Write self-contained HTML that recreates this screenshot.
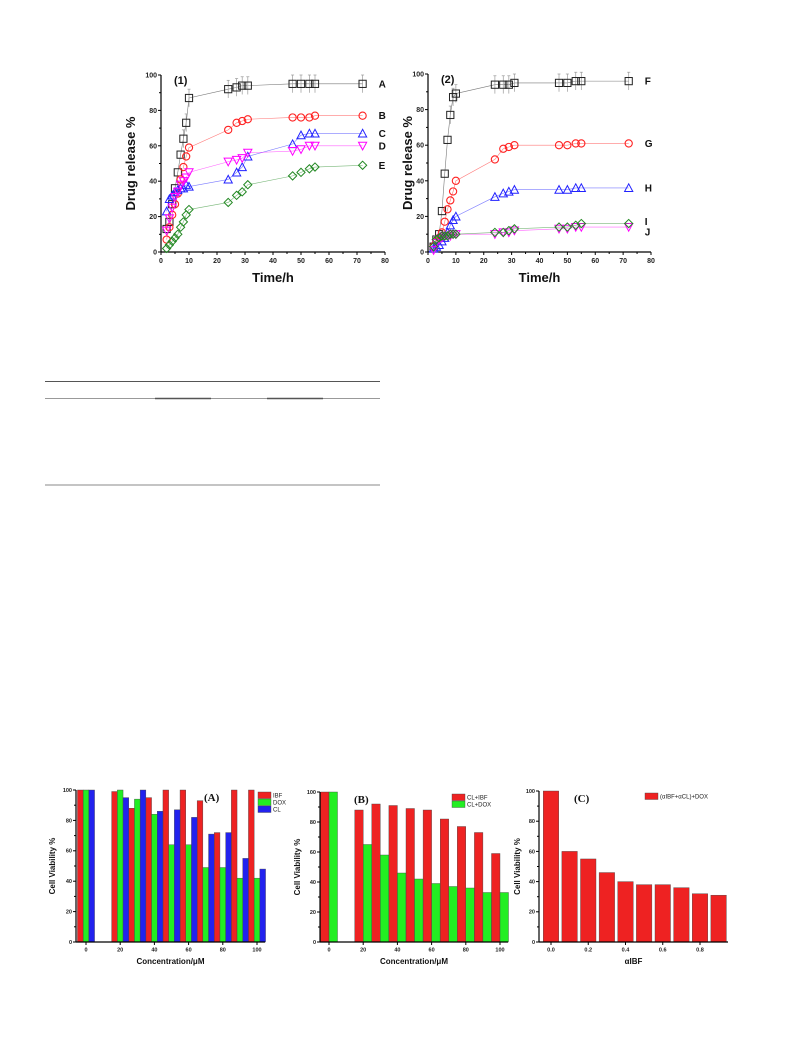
<!DOCTYPE html>
<html><head><meta charset="utf-8"><style>
html,body{margin:0;padding:0;background:#fff}
svg{display:block;font-family:"Liberation Sans",Arial,sans-serif}
</style></head><body>
<svg id="s" width="793" height="1057" viewBox="0 0 793 1057" xmlns="http://www.w3.org/2000/svg">
<g>
<line x1="45" y1="381.5" x2="380" y2="381.5" stroke="#555" stroke-width="1"/>
<line x1="45" y1="398.5" x2="380" y2="398.5" stroke="#999" stroke-width="1"/>
<line x1="155" y1="398.5" x2="211" y2="398.5" stroke="#555" stroke-width="1.4"/>
<line x1="267" y1="398.5" x2="323" y2="398.5" stroke="#555" stroke-width="1.4"/>
<line x1="45" y1="485" x2="380" y2="485" stroke="#888" stroke-width="1"/>
</g>
</svg>
<script>
const T1=[2,3,4,5,6,7,8,9,10,24,27,29,31,47,50,53,55,72];
const seriesA=[13,17,27,36,45,55,64,73,87,92,93,94,94,95,95,95,95,95];
const seriesB=[7,14,21,27,33,41,48,54,59,69,73,74,75,76,76,76,77,77];
const seriesC=[23,30,32,34,35,36,36,38,37,41,45,48,54,61,66,67,67,67];
const seriesD=[12,19,25,31,34,38,40,42,45,51,52,53,56,57,58,60,60,60];
const seriesE=[2,4,6,8,10,14,17,21,24,28,32,34,38,43,45,47,48,49];
const seriesF=[3,7,10,23,44,63,77,87,89,94,94,94,95,95,95,96,96,96];
const seriesG=[3,6,8,11,17,24,29,34,40,52,58,59,60,60,60,61,61,61];
const seriesH=[2,3,4,6,8,11,15,18,20,31,33,34,35,35,35,36,36,36];
const seriesI=[3,7,8,9,9,9,10,10,10,11,11,12,13,14,14,15,16,16];
const seriesJ=[1,5,7,8,9,9,9,10,10,10,11,11,12,13,13,14,14,14];
const xTicksTime=[0,10,20,30,40,50,60,70,80];
const yTicksPct=[0,20,40,60,80,100];
const concCats=[0,20,30,40,50,60,70,80,90,100];
const viabIBF=[100,99,88,95,100,100,93,72,100,100];
const viabDOX=[100,100,94,84,64,64,49,49,42,42];
const viabCL=[100,95,100,86,87,82,71,72,55,48];
const viabCLIBF=[100,88,92,91,89,88,82,77,73,59];
const viabCLDOX=[100,65,58,46,42,39,37,36,33,33];
const concTicks=[0,20,40,60,80,100];
const alphaCats=[0,0.1,0.2,0.3,0.4,0.5,0.6,0.7,0.8,0.9];
const viabAlpha=[100,60,55,46,40,38,38,36,32,31];
const alphaTicks=[0,0.2,0.4,0.6,0.8];

const svg=document.getElementById('s');
const NS='http://www.w3.org/2000/svg';
function mk(tag,attrs,parent){const e=document.createElementNS(NS,tag);for(const k in attrs)e.setAttribute(k,attrs[k]);(parent||svg).appendChild(e);return e;}
function txt(s,attrs,parent){const e=mk('text',attrs,parent);e.textContent=s;return e;}

function axes(g,x0,x1,y0,y1,xs,ys,xt,yt,fmtX,fs,minor){
  const ax=mk('line',{x1:x0,y1:y0,x2:x1,y2:y0,stroke:'#000','stroke-width':1.2},g);
  
  
  const ay=mk('line',{x1:x0,y1:y0,x2:x0,y2:y1,stroke:'#000','stroke-width':1.2},g);
  
  
  xt.forEach(v=>{const x=xs(v);
    mk('line',{x1:x,y1:y0,x2:x,y2:y0+3,stroke:'#000'},g);
    const t=txt(fmtX(v),{x:x,y:y0+4+fs,'font-size':fs,'text-anchor':'middle','font-weight':'bold',fill:'#222'},g);
    
    
  });
  yt.forEach((v,i)=>{const y=ys(v);
    mk('line',{x1:x0-3,y1:y,x2:x0,y2:y,stroke:'#000'},g);
    if(minor&&i<yt.length-1){const ym=ys(v+(yt[1]-yt[0])/2);mk('line',{x1:x0-2,y1:ym,x2:x0,y2:ym,stroke:'#000'},g);}
    const t=txt(String(v),{x:x0-4,y:y+fs*0.35,'font-size':fs,'text-anchor':'end','font-weight':'bold',fill:'#222'},g);
    
    
  });
}

function marker(g,shape,x,y,c){
  const r=3.6;
  if(shape==='sq')return mk('rect',{x:x-r,y:y-r,width:2*r,height:2*r,fill:'none',stroke:c,'stroke-width':1},g);
  if(shape==='ci')return mk('circle',{cx:x,cy:y,r:r,fill:'none',stroke:c,'stroke-width':1.1},g);
  if(shape==='up')return mk('polygon',{points:`${x},${y-r-0.5} ${x-r-0.5},${y+r} ${x+r+0.5},${y+r}`,fill:'none',stroke:c,'stroke-width':1},g);
  if(shape==='dn')return mk('polygon',{points:`${x-r-0.5},${y-r} ${x+r+0.5},${y-r} ${x},${y+r+0.5}`,fill:'none',stroke:c,'stroke-width':1},g);
  return mk('polygon',{points:`${x},${y-r-0.5} ${x+r+0.5},${y} ${x},${y+r+0.5} ${x-r-0.5},${y}`,fill:'none',stroke:c,'stroke-width':1},g);
}

function lineChart(name,x0,x1,y0,y1,label,series,ytitleX){
  const g=mk('g',{});
  
  
  const xs=v=>x0+(v/80)*(x1-x0), ys=v=>y0-(v/100)*(y0-y1);
  axes(g,x0,x1,y0,y1,xs,ys,xTicksTime,yTicksPct,v=>String(v),7,true);
  xTicksTime.slice(0,-1).forEach(v=>{const x=xs(v+5);mk('line',{x1:x,y1:y0,x2:x,y2:y0+2,stroke:'#000'},g);});
  const p=txt(label,{x:x0+13,y:y1+9,'font-size':11,'font-weight':'bold',fill:'#111'},g);
  
  
  const xt=txt('Time/h',{x:(x0+x1)/2,y:y0+30,'font-size':13,'font-weight':'bold','text-anchor':'middle',fill:'#111'},g);
  
  
  const yt=txt('Drug release %',{x:ytitleX,y:(y0+y1)/2,'font-size':13,'font-weight':'bold','text-anchor':'middle',fill:'#111',transform:`rotate(-90 ${ytitleX} ${(y0+y1)/2})`},g);
  
  
  series.forEach(s=>{
    const sg=mk('g',{},g);
    
    
    const pts=T1.map((t,i)=>xs(t)+','+ys(s.v[i])).join(' ');
    mk('polyline',{points:pts,fill:'none',stroke:s.c,'stroke-width':0.6,opacity:0.6},sg);
    if(s.err){T1.forEach((t,i)=>{if(t>=8){const x=xs(t);mk('line',{x1:x,y1:ys(s.v[i]+5),x2:x,y2:ys(s.v[i]-5),stroke:'#999','stroke-width':0.7},sg);mk('line',{x1:x-1.5,y1:ys(s.v[i]+5),x2:x+1.5,y2:ys(s.v[i]+5),stroke:'#999','stroke-width':0.7},sg);}});}
    T1.forEach((t,i)=>{const m=marker(sg,s.m,xs(t),ys(s.v[i]),s.c);
      
      });
    const lx=xs(72)+16;
    const lb=txt(s.n,{x:lx,y:ys(s.v[s.v.length-1])+(s.dy||0)+3.5,'font-size':10,'font-weight':'bold',fill:'#111'},sg);
    
    
  });
}
lineChart('release-chart-1',161,385,252,75,'(1)',[
 {n:'A',v:seriesA,c:'#222',m:'sq',err:true},
 {n:'B',v:seriesB,c:'#f22',m:'ci'},
 {n:'C',v:seriesC,c:'#22f',m:'up'},
 {n:'D',v:seriesD,c:'#f0f',m:'dn'},
 {n:'E',v:seriesE,c:'#282',m:'di'}],135);
lineChart('release-chart-2',428,651,252,74,'(2)',[
 {n:'F',v:seriesF,c:'#222',m:'sq',err:true},
 {n:'G',v:seriesG,c:'#f22',m:'ci'},
 {n:'H',v:seriesH,c:'#22f',m:'up'},
 {n:'J',v:seriesJ,c:'#f0f',m:'dn',dy:5},
 {n:'I',v:seriesI,c:'#282',m:'di',dy:-2}],412);

function barChart(name,x0,x1,y0,y1,xs,cats,groups,bw,label,labelX,legend,legX,xtitle,xticks,fmt,titleX){
  const g=mk('g',{});
  
  
  const ys=v=>y0-(v/100)*(y0-y1);
  const n=groups.length;
  groups.forEach((gr,k)=>{
    cats.forEach((c,i)=>{
      const cx=xs(c)+(k-(n-1)/2)*bw;
      const r=mk('rect',{x:cx-bw/2,y:ys(gr.v[i]),width:bw,height:y0-ys(gr.v[i]),fill:gr.c,stroke:'#444','stroke-width':0.4},g);
      
      
    });
  });
  axes(g,x0,x1,y0,y1,xs,ys,xticks,yTicksPct,fmt,5.5,true);
  const p=txt(label,{x:labelX,y:y1+11,'font-size':11,'font-weight':'bold','font-family':'Liberation Serif, serif',fill:'#111'},g);
  
  
  groups.forEach((gr,k)=>{
    const sw=mk('rect',{x:legX,y:y1+2+k*7,width:13,height:6.5,fill:gr.c,stroke:'#444','stroke-width':0.4},g);
    
    
    const lt=txt(gr.l,{x:legX+15,y:y1+7.5+k*7,'font-size':6,fill:'#222'},g);
    
    
  });
  const xt=txt(xtitle,{x:(x0+x1)/2,y:y0+22,'font-size':xtitle.length>3?8:6,'font-weight':'bold','text-anchor':'middle',fill:'#111'},g);
  
  
  const yc=(y0+y1)/2;
  const yt=txt('Cell Viability %',{x:titleX,y:yc,'font-size':8,'font-weight':'bold','text-anchor':'middle',fill:'#111',transform:`rotate(-90 ${titleX} ${yc})`},g);
  
  
}
const xsA=v=>86+v*(171/100);
barChart('viability-chart-A',76,265,942,790,xsA,concCats,[
 {n:'IBF',l:'IBF',v:viabIBF,c:'#ee2222'},
 {n:'DOX',l:'DOX',v:viabDOX,c:'#22ee22'},
 {n:'CL',l:'CL',v:viabCL,c:'#2222ee'}],5.7,'(A)',204,null,258,'Concentration/μM',concTicks,v=>String(v),55);
const xsB=v=>329+v*(171/100);
barChart('viability-chart-B',320,508,942,792,xsB,concCats,[
 {n:'CL-IBF',l:'CL+IBF',v:viabCLIBF,c:'#ee2222'},
 {n:'CL-DOX',l:'CL+DOX',v:viabCLDOX,c:'#22ee22'}],8.5,'(B)',354,null,452,'Concentration/μM',concTicks,v=>String(v),300);
const xsC=v=>551+v*(149/0.8);
barChart('viability-chart-C',539,728,942,791,xsC,alphaCats,[
 {n:'alpha-DOX',l:'(αIBF+αCL)+DOX',v:viabAlpha,c:'#ee2222'}],15.5,'(C)',574,null,645,'αIBF',alphaTicks,v=>v.toFixed(1),520);
</script>
</body></html>
